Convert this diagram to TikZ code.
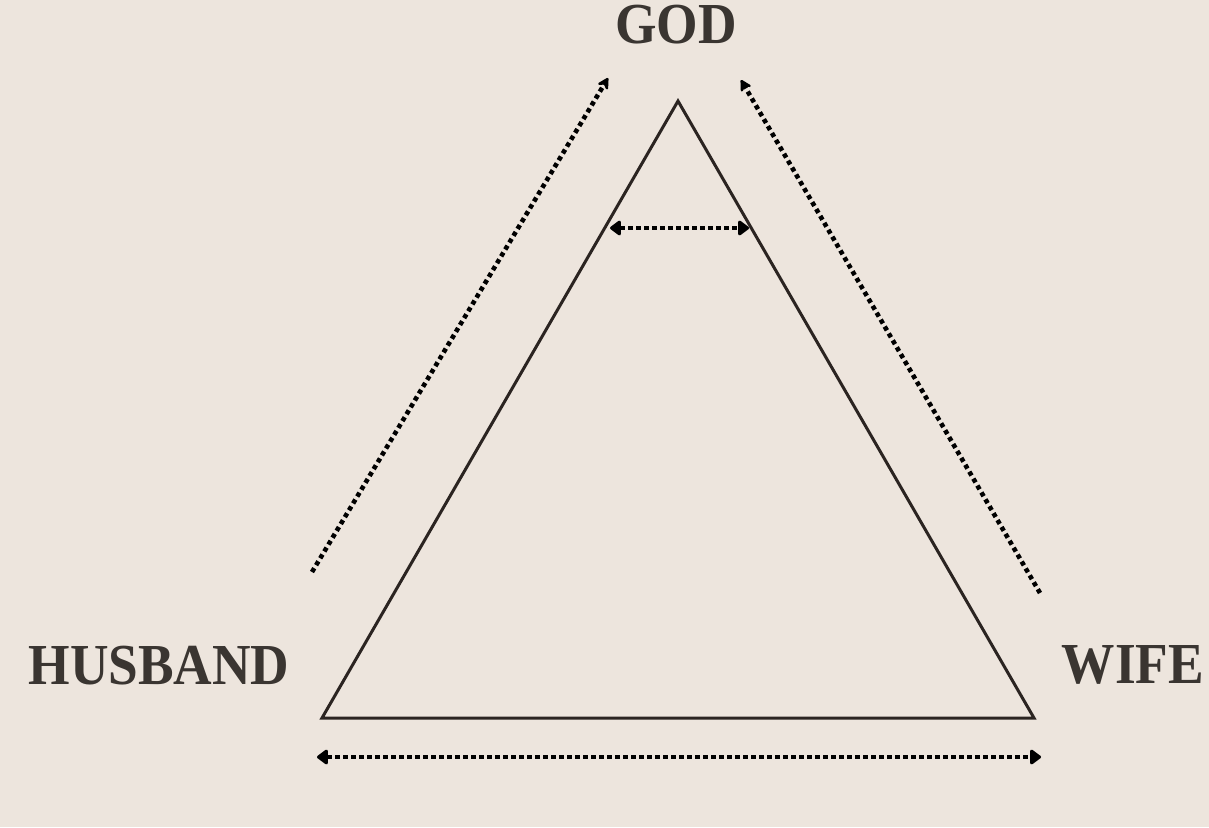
\documentclass[tikz,border=0pt]{standalone}
\usepackage{fontspec}
\setmainfont{Liberation Serif}
\usetikzlibrary{arrows.meta}
\definecolor{bg}{HTML}{EDE5DD}
\definecolor{ink}{HTML}{2B2421}
\definecolor{txt}{HTML}{3A3531}
\tikzset{
  label/.style={font=\bfseries\fontsize{58}{58}\selectfont, text=txt, inner sep=0pt, xscale=0.92},
  dotline/.style={line width=4.6pt, dash pattern=on 4.4pt off 3.6pt, draw=black},
  tri/.style={line width=3pt, draw=ink, line join=miter},
  headtwo/.style={{Triangle[length=12pt,width=17pt,round]}-{Triangle[length=12pt,width=17pt,round]}},
  headup/.style={-{Stealth[length=14pt,width=15pt,inset=5pt,round]}}
}
\begin{document}
\begin{tikzpicture}[x=1pt,y=-1pt]
\fill[bg] (0,0) rectangle (1209,827);
\useasboundingbox (0,0) rectangle (1209,827);
\node[label] (god) at (676,25) {GOD};
\node[label] (husband) at (159,666) {HUSBAND};
\node[label] (wife) at (1133,665) {WIFE};
\coordinate (apex) at (678,101);
\coordinate (bl) at (322,718);
\coordinate (br) at (1034,718);
\draw[tri] (apex) -- (bl) -- (br) -- cycle;
\coordinate (ls) at (312,572);
\coordinate (le) at (608,78);
\coordinate (rs) at (1040,593);
\coordinate (re) at (741,80);
\draw[dotline, headup] (ls) -- (le);
\draw[dotline, headup] (rs) -- (re);
\coordinate (il) at (610,228);
\coordinate (ir) at (749,228);
\draw[dotline, headtwo] (il) -- (ir);
\coordinate (bla) at (317,757);
\coordinate (bra) at (1041,757);
\draw[dotline, headtwo] (bla) -- (bra);
\end{tikzpicture}
\end{document}
